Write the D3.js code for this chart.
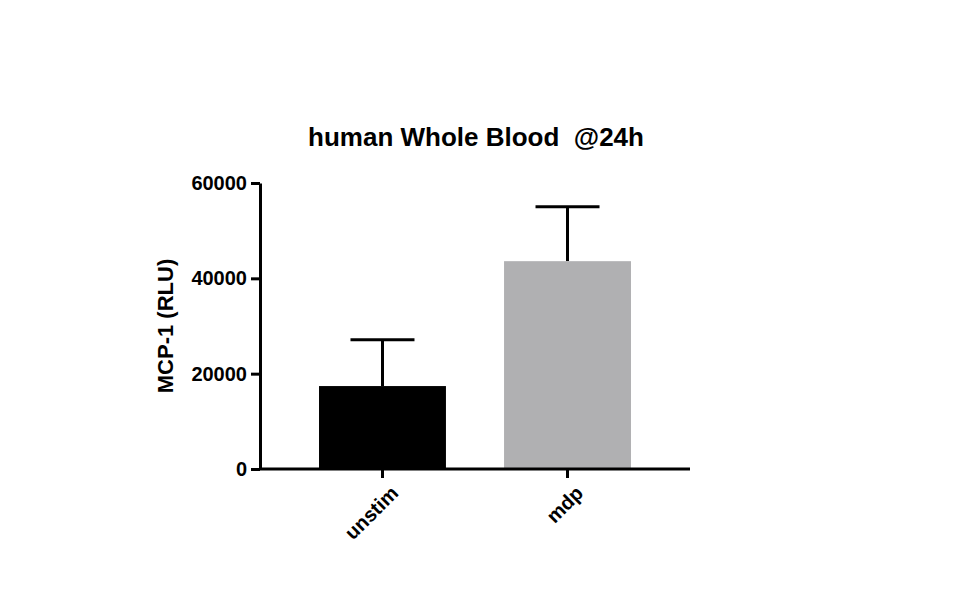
<!DOCTYPE html>
<html><head><meta charset="utf-8">
<script src="https://cdn.jsdelivr.net/npm/d3@7"></script>
<style>body{margin:0;background:#fff}</style>
</head><body><svg id="c" width="972" height="616"></svg>
<script>
const categories = ["unstim", "mdp"];
const means = [17400, 43600];
const errTops = [27100, 55000];
const colors = ["#000000", "#b0b0b2"];
const yTicks = [0, 20000, 40000, 60000];

const svg = d3.select("#c");
const font = "Liberation Sans, Arial, sans-serif";
const x = d3.scaleBand().domain(categories).range([260, 690]).paddingInner(0.314).paddingOuter(0.319);
const y = d3.scaleLinear().domain([0, 60000]).range([469, 183]);

svg.append("text").attr("x", 476).attr("y", 146).attr("text-anchor", "middle")
  .style("white-space", "pre")
  .attr("font-family", font).attr("font-weight", "bold").attr("font-size", 26)
  .text("human Whole Blood  @24h");

const g = svg.append("g");
categories.forEach((c, i) => {
  const cx = x(c) + x.bandwidth() / 2;
  g.append("line").attr("x1", cx).attr("x2", cx).attr("y1", y(means[i])).attr("y2", y(errTops[i]))
    .attr("stroke", "#000").attr("stroke-width", 3);
  g.append("line").attr("x1", cx - 32).attr("x2", cx + 32).attr("y1", y(errTops[i])).attr("y2", y(errTops[i]))
    .attr("stroke", "#000").attr("stroke-width", 3);
});
g.selectAll("rect").data(categories).join("rect")
  .attr("x", d => x(d)).attr("width", x.bandwidth())
  .attr("y", (d, i) => y(means[i])).attr("height", (d, i) => y(0) - y(means[i]))
  .attr("fill", (d, i) => colors[i]);

const ya = svg.append("g").attr("transform", "translate(260,0)")
  .call(d3.axisLeft(y).tickValues(yTicks).tickFormat(d3.format("d")).tickSize(9).tickSizeOuter(0));
ya.select(".domain").attr("stroke-width", 3);
ya.selectAll(".tick line").attr("stroke-width", 3);
ya.selectAll("text").attr("font-family", font).attr("font-weight", "bold").attr("font-size", 20).attr("fill", "#000").attr("dx", "-1");

const xa = svg.append("g").attr("transform", "translate(0,469)")
  .call(d3.axisBottom(x).tickSize(9).tickSizeOuter(0));
xa.select(".domain").attr("stroke-width", 3).attr("d", "M260,0H690");
xa.selectAll(".tick line").attr("stroke-width", 3);
xa.selectAll("text").attr("font-family", font).attr("font-weight", "bold").attr("font-size", 20).attr("fill", "#000")
  .attr("text-anchor", "end").attr("transform", "rotate(-45)").attr("dx", "-0.3em").attr("dy", "0.9em");

svg.append("text").attr("transform", "translate(173,326) rotate(-90)").attr("text-anchor", "middle")
  .attr("font-family", font).attr("font-weight", "bold").attr("font-size", 22).text("MCP-1 (RLU)");
</script></body></html>
